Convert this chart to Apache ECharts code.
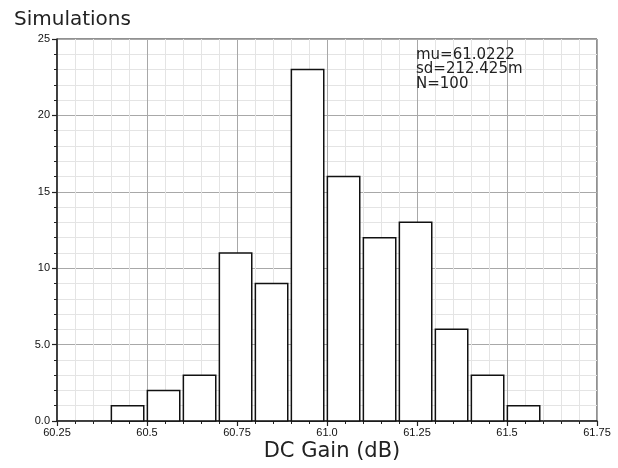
<!DOCTYPE html>
<html>
<head>
<meta charset="utf-8">
<script src="https://cdn.jsdelivr.net/npm/echarts@6/dist/echarts.min.js"></script>
<style>
html,body{margin:0;padding:0;background:#fff;}
#chart{width:618px;height:468px;}
</style>
</head>
<body>
<div id="chart"></div>
<script>
var binStarts = [60.4, 60.5, 60.6, 60.7, 60.8, 60.9, 61.0, 61.1, 61.2, 61.3, 61.4, 61.5];
var counts    = [1, 2, 3, 11, 9, 23, 16, 12, 13, 6, 3, 1];
var xTickLabels = ['60.25', '60.5', '60.75', '61.0', '61.25', '61.5', '61.75'];
var yTickLabels = ['0.0', '5.0', '10', '15', '20', '25'];
var statsLines = ['mu=61.0222', 'sd=212.425m', 'N=100'];
var titleText = 'Simulations';
var xName = 'DC Gain (dB)';

var chart = echarts.init(document.getElementById('chart'), null, {renderer: 'canvas'});
var data = binStarts.map(function (b, i) { return [b, counts[i]]; });
var font = 'Liberation Sans';
var bigFont = 'DejaVu Sans';

chart.setOption({
  animation: false,
  backgroundColor: '#fff',
  title: {
    text: titleText, left: 9, top: 5,
    textStyle: {fontFamily: bigFont, fontWeight: 'normal', fontSize: 20, color: '#222'}
  },
  grid: {left: 57, top: 39, right: 21, bottom: 47, show: true, borderColor: '#222', borderWidth: 1, backgroundColor: 'transparent'},
  xAxis: {
    type: 'value', min: 60.25, max: 61.75, interval: 0.25,
    axisLine: {show: true, lineStyle: {color: '#222', width: 1.5}},
    axisTick: {show: true, length: 5, lineStyle: {color: '#222', width: 1.2}},
    minorTick: {show: true, splitNumber: 5, length: 3, lineStyle: {color: '#222', width: 1}},
    axisLabel: {
      fontFamily: font, fontSize: 11, color: '#111', margin: 6,
      formatter: function (v, i) { return xTickLabels[i]; }
    },
    splitLine: {show: true, lineStyle: {color: '#a8a8a8', width: 1}},
    minorSplitLine: {show: true, lineStyle: {color: '#e4e4e4', width: 1}}
  },
  yAxis: {
    type: 'value', min: 0, max: 25, interval: 5,
    axisLine: {show: true, lineStyle: {color: '#222', width: 1.5}},
    axisTick: {show: true, length: 5, lineStyle: {color: '#222', width: 1.2}},
    minorTick: {show: true, splitNumber: 5, length: 3, lineStyle: {color: '#222', width: 1}},
    axisLabel: {
      fontFamily: font, fontSize: 11, color: '#111', margin: 7,
      formatter: function (v, i) { return yTickLabels[i]; }
    },
    splitLine: {show: true, lineStyle: {color: '#a8a8a8', width: 1}},
    minorSplitLine: {show: true, lineStyle: {color: '#e4e4e4', width: 1}}
  },
  graphic: [{
    type: 'text', left: 416, top: 47.5, z: 100,
    style: {text: statsLines.join('\n'), fontFamily: bigFont, fontSize: 15, lineHeight: 14.5, fill: '#222'}
  }, {
    type: 'text', x: 332, y: 452, z: 100,
    style: {text: xName, fontFamily: bigFont, fontSize: 21, fill: '#222', align: 'center', verticalAlign: 'middle'}
  }],
  series: [{
    type: 'custom',
    data: data,
    renderItem: function (params, api) {
      var x0 = api.value(0), c = api.value(1);
      var p1 = api.coord([x0 + 0.001, c]);
      var p2 = api.coord([x0 + 0.091, 0]);
      return {
        type: 'rect',
        shape: {x: p1[0], y: p1[1], width: p2[0] - p1[0], height: p2[1] - p1[1]},
        style: {fill: '#fff', stroke: '#111', lineWidth: 1.5}
      };
    },
    encode: {x: 0, y: 1}
  }]
});
</script>
</body>
</html>
